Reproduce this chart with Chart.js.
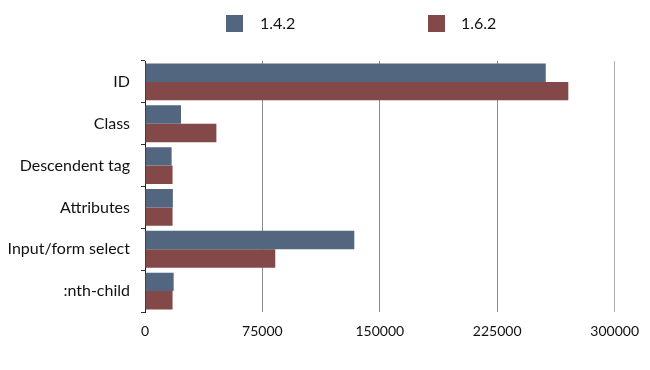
<!DOCTYPE html>
<html>
<head>
<meta charset="utf-8">
<script src="https://cdn.jsdelivr.net/npm/chart.js@4"></script>
<style>
html,body{margin:0;padding:0;background:#fff;}
#wrap{width:650px;height:370px;position:relative;}
</style>
</head>
<body>
<div id="wrap"><canvas id="c" width="650" height="370"></canvas></div>
<script>
const categories = ["ID", "Class", "Descendent tag", "Attributes", "Input/form select", ":nth-child"];
const seriesNames = ["1.4.2", "1.6.2"];
const values142 = [256000, 23000, 17000, 17800, 133700, 18300];
const values162 = [270400, 45600, 17600, 17600, 83200, 17600];
const xTicks = [0, 75000, 150000, 225000, 300000];

const colors = ["#52667f", "#834848"];
const FONT = "Lato, 'DejaVu Sans', sans-serif";

const legendPlugin = {
  id: 'customLegend',
  afterDraw(chart) {
    const ctx = chart.ctx;
    const pos = [{bx: 226, tx: 260}, {bx: 428, tx: 461}];
    ctx.save();
    chart.data.datasets.forEach((ds, i) => {
      const p = pos[i];
      ctx.fillStyle = ds.backgroundColor;
      ctx.fillRect(p.bx, 15, 17, 17);
      ctx.fillStyle = '#111';
      ctx.font = "16px " + FONT;
      ctx.textBaseline = 'middle';
      ctx.textAlign = 'left';
      ctx.fillText(ds.label, p.tx, 24);
    });
    ctx.restore();
  }
};

new Chart(document.getElementById('c'), {
  type: 'bar',
  data: {
    labels: categories,
    datasets: [
      {label: seriesNames[0], data: values142, backgroundColor: colors[0]},
      {label: seriesNames[1], data: values162, backgroundColor: colors[1]}
    ]
  },
  options: {
    indexAxis: 'y',
    responsive: false,
    animation: false,
    layout: {padding: {top: 61, right: 34, bottom: 0, left: 0}},
    datasets: {bar: {categoryPercentage: 0.88, barPercentage: 1.0, borderWidth: 0}},
    plugins: {legend: {display: false}, tooltip: {enabled: false}},
    scales: {
      x: {
        min: 0, max: 300000,
        afterBuildTicks: (s) => { s.ticks = xTicks.map(v => ({value: v})); },
        ticks: {
          callback: (v) => String(v),
          color: '#111',
          font: {family: FONT, size: 14},
          padding: 11,
          maxRotation: 0
        },
        grid: {color: (c) => c.tick && c.tick.value === 300000 ? '#b0b0b0' : '#8a8a8a', drawTicks: false, lineWidth: 1},
        border: {display: false},
        afterFit: (s) => { s.height = 58; }
      },
      y: {
        ticks: {
          color: '#111',
          font: {family: FONT, size: 16},
          padding: 11
        },
        grid: {drawOnChartArea: false, drawTicks: true, tickLength: 4, color: '#333'},
        border: {display: true, color: '#222', width: 1},
        afterFit: (s) => { s.width = 145; }
      }
    }
  },
  plugins: [legendPlugin]
});
</script>
</body>
</html>
